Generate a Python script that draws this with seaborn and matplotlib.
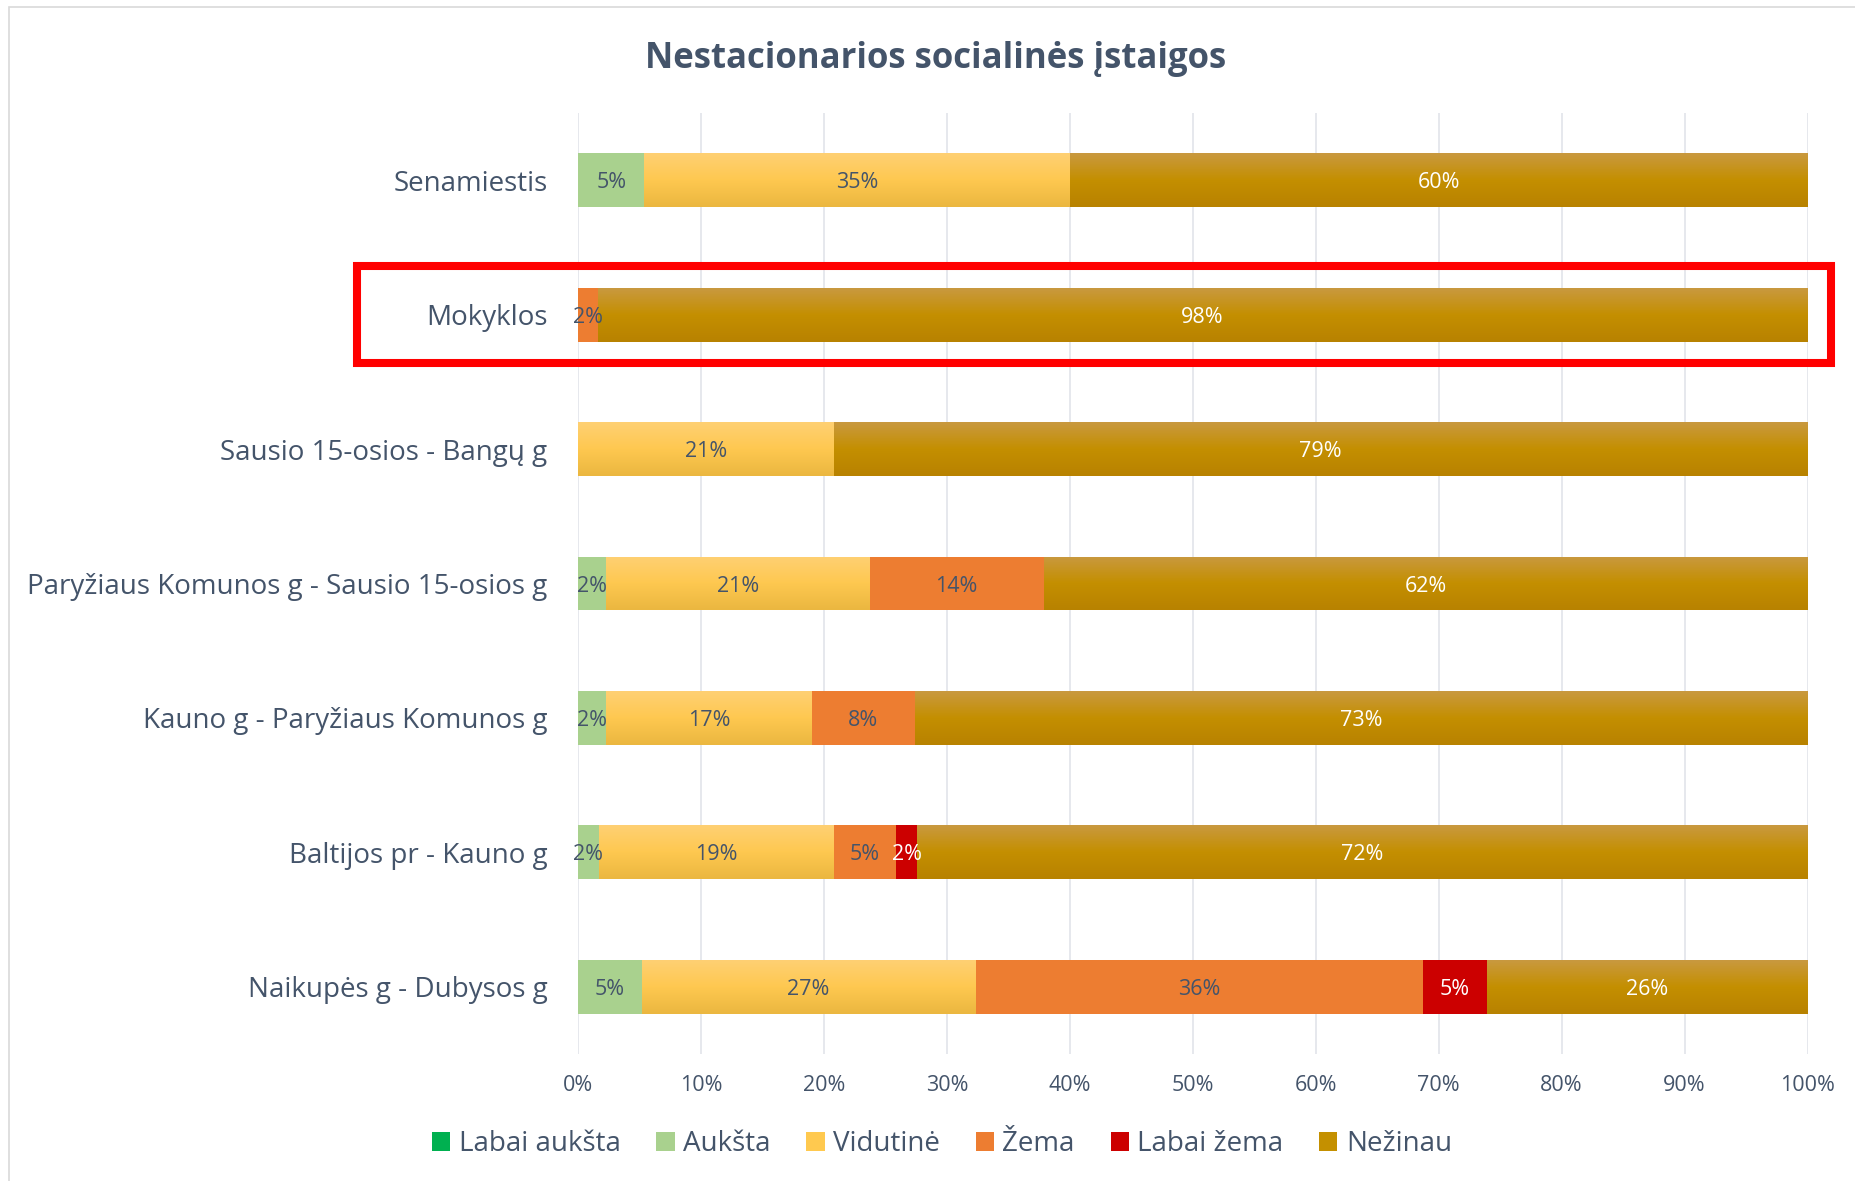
import numpy as np
import pandas as pd
import seaborn as sns
import matplotlib
import matplotlib.pyplot as plt
from matplotlib.patches import Rectangle, Patch
from matplotlib.colors import LinearSegmentedColormap

matplotlib.use("Agg")

# Données (en %)
categories = [
    "Senamiestis",
    "Mokyklos",
    "Sausio 15-osios - Bangų g",
    "Paryžiaus Komunos g - Sausio 15-osios g",
    "Kauno g - Paryžiaus Komunos g",
    "Baltijos pr - Kauno g",
    "Naikupės g - Dubysos g",
]
series = ["Labai aukšta", "Aukšta", "Vidutinė", "Žema", "Labai žema", "Nežinau"]
labai_aukszta = [0, 0, 0, 0, 0, 0, 0]
aukszta = [5.4, 0, 0, 2.3, 2.3, 1.7, 5.2]
vidutine = [34.6, 0, 20.8, 21.4, 16.7, 19.1, 27.1]
zema = [0, 1.6, 0, 14.2, 8.4, 5.1, 36.4]
labai_zema = [0, 0, 0, 0, 0, 1.7, 5.2]
nezinau = [60.0, 98.4, 79.2, 62.1, 72.6, 72.4, 26.1]
ticks = [0, 10, 20, 30, 40, 50, 60, 70, 80, 90, 100]

colors = ["#00B050", "#A9D18E", "#FFC94F", "#ED7D31", "#CC0000", "#C49000"]
gradients = {
    "Vidutinė": ["#FFD073", "#FEC850", "#EBB740"],
    "Nežinau": ["#C9993F", "#C48F00", "#B88200"],
}
label_white = {"Nežinau", "Labai žema"}
text_col = "#44546A"

df = pd.DataFrame(
    {"cat": categories, "Labai aukšta": labai_aukszta, "Aukšta": aukszta,
     "Vidutinė": vidutine, "Žema": zema, "Labai žema": labai_zema, "Nežinau": nezinau}
)
cum = df[series].cumsum(axis=1)

sns.set_theme(style="white")
plt.rcParams["font.family"] = ["Open Sans", "DejaVu Sans"]

W, H = 1856, 1181
fig = plt.figure(figsize=(W / 100, H / 100), dpi=100)
ax = fig.add_axes([578 / W, 1 - 1054 / H, (1807.5 - 578) / W, (1054 - 113) / H])

# Barres empilées : on dessine le cumul du plus grand au plus petit
for k, s in enumerate(reversed(series)):
    n_before = len(ax.patches)
    sns.barplot(data=cum, x=s, y=df["cat"], color=colors[series.index(s)],
                orient="h", width=0.4, ax=ax, saturation=1, linewidth=0)
    new = ax.patches[n_before:]
    for p in new:
        p.set_zorder(2 + k)
        if s in gradients and p.get_width() > 0:
            cmap = LinearSegmentedColormap.from_list("g", gradients[s])
            x0, y0 = p.get_x(), p.get_y()
            w, h = p.get_width(), p.get_height()
            img = ax.imshow(np.linspace(0, 1, 64).reshape(-1, 1), cmap=cmap,
                            aspect="auto", extent=[x0, x0 + w, y0 + h, y0],
                            origin="upper", zorder=2 + k + 0.5)
            img.set_clip_path(p)

# Étiquettes
for i in range(len(categories)):
    left = 0
    for s in series:
        v = df.loc[i, s]
        if v > 0:
            ax.text(left + v / 2, i, f"{v:.0f}%", ha="center", va="center_baseline",
                    fontsize=15.5, color="white" if s in label_white else text_col,
                    zorder=20)
        left += v

ax.set_xlim(0, 100)
ax.set_ylim(len(categories) - 0.5, -0.5)
ax.set_xticks(ticks)
ax.set_xticklabels([f"{t}%" for t in ticks])
ax.set_xlabel("")
ax.set_ylabel("")
ax.grid(axis="x", color="#E1E4EA", linewidth=1.2)
ax.set_axisbelow(True)
for sp in ax.spines.values():
    sp.set_visible(False)
ax.tick_params(axis="x", length=0, pad=15, labelsize=15.5, labelcolor=text_col)
ax.tick_params(axis="y", length=0, pad=22, labelsize=20, labelcolor=text_col)

fig.text(936 / W, 1 - 59 / H, "Nestacionarios socialinės įstaigos", ha="center",
         va="center", fontsize=25, fontweight="bold", color=text_col)

handles = [Patch(facecolor=c, edgecolor="none") for c in colors]
fig.legend(handles, series, loc="center", bbox_to_anchor=(942 / W, 1 - 1144 / H),
           ncol=6, frameon=False, fontsize=20, labelcolor=text_col,
           handlelength=0.65, handleheight=0.65, handletextpad=0.3, columnspacing=1.3)

# Cadre et rectangle rouge
fig.add_artist(Rectangle((9.5 / W, -0.05), 1.2, 1.05 - 7 / H, transform=fig.transFigure,
                         fill=False, edgecolor="#D9D9D9", linewidth=1.2))
fig.add_artist(Rectangle((357 / W, 1 - 363 / H), (1831 - 357) / W, (363 - 266) / H,
                         transform=fig.transFigure, fill=False, edgecolor="#FF0000",
                         linewidth=5.8))

fig.savefig("out.png", dpi=100)
